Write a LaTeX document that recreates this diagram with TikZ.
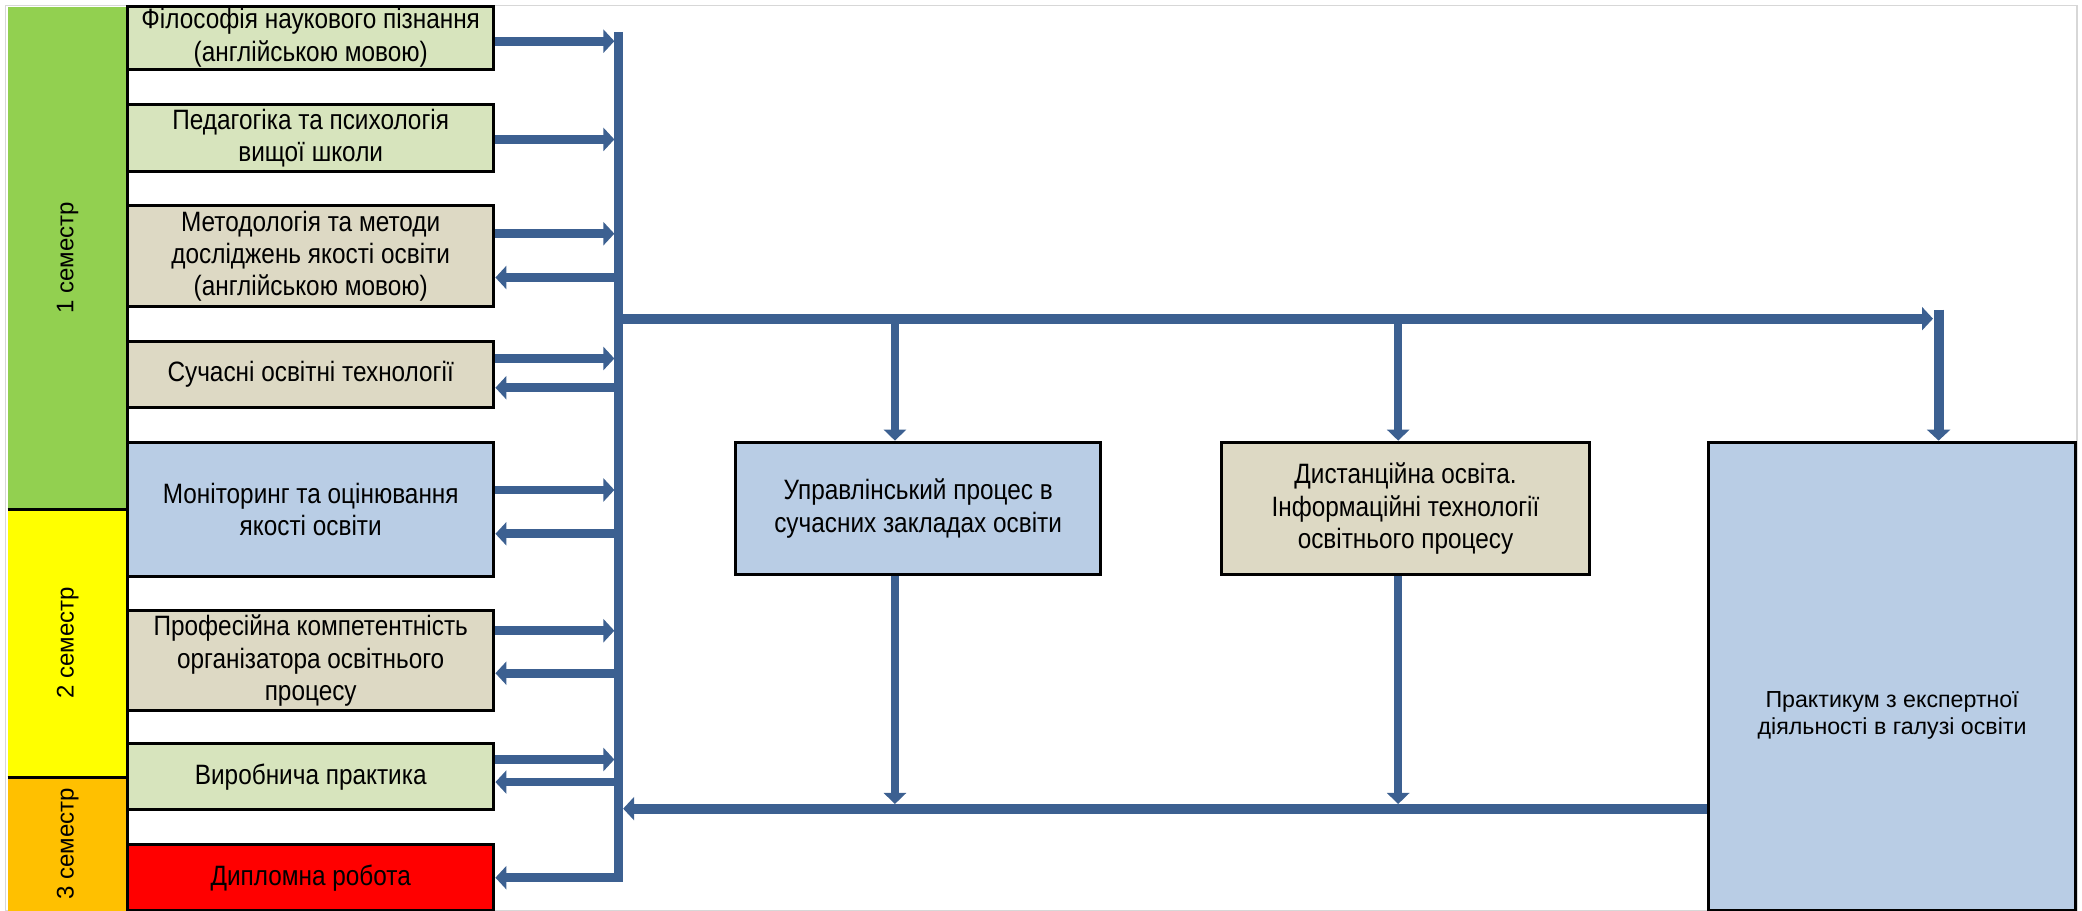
\documentclass[tikz,border=0pt]{standalone}
\usepackage{fontspec}
\setmainfont{Liberation Sans}
\newfontfamily\narrowfont[FakeStretch=0.87]{Liberation Sans}
\usetikzlibrary{arrows.meta}
\definecolor{semgreen}{HTML}{92D050}
\definecolor{semyellow}{HTML}{FFFF00}
\definecolor{semorange}{HTML}{FFC000}
\definecolor{boxgreen}{HTML}{D7E4BD}
\definecolor{boxtan}{HTML}{DDD9C4}
\definecolor{boxblue}{HTML}{B9CDE5}
\definecolor{boxred}{HTML}{FF0000}
\definecolor{arrowblue}{RGB}{60,96,145}
\definecolor{framegray}{RGB}{215,215,215}
\tikzset{
  sembar/.style={inner sep=0pt, fill=#1, minimum width=59.75pt},
  semlabel/.style={rotate=90, font=\fontsize{12}{14}\selectfont},
  lbox/.style={draw=black, line width=1.5pt, inner sep=0pt, fill=#1, align=center,
    font=\narrowfont\fontsize{14}{16.2}\selectfont},
  leftcol/.style={minimum width=183.2pt},
  conn/.style={draw=arrowblue, line width=4.4pt},
  busline/.style={draw=arrowblue, line width=4.4pt},
  thinconn/.style={draw=arrowblue, line width=4.2pt},
  tipto/.style={-{Triangle[length=5.5pt,width=11.5pt]}},
  tipfrom/.style={{Triangle[length=5.5pt,width=11.5pt]}-},
  smalltip/.style={-{Triangle[length=5.5pt,width=11pt]}},
}
\begin{document}
\begin{tikzpicture}[x=0.6639pt,y=-0.6639pt]
\useasboundingbox (0,0) rectangle (1568,686);
\draw[framegray, line width=0.8pt] (4,4) rectangle (1564,686);

% semester bars
\node[sembar=semgreen, minimum height=251pt, label={[semlabel]center:1 семестр}] (s1) at (51,194) {};
\node[sembar=semyellow, minimum height=134.1pt, label={[semlabel]center:2 семестр}] (s2) at (51,484) {};
\node[sembar=semorange, minimum height=67.1pt, label={[semlabel]center:3 семестр}] (s3) at (51,635.5) {};
\draw[black, line width=1.5pt] (s1.north east) -- (s3.south east);
\draw[black, line width=1.5pt] (s1.south west) -- (s1.south east);
\draw[black, line width=1.5pt] (s2.south west) -- (s2.south east);

% left boxes
\node[lbox=boxgreen, leftcol, minimum height=31.2pt] (b1) at (234,28.5) {Філософія наукового пізнання\\(англійською мовою)};
\node[lbox=boxgreen, leftcol, minimum height=33.2pt] (b2) at (234,104) {Педагогіка та психологія\\вищої школи};
\node[lbox=boxtan, leftcol, minimum height=50.5pt] (b3) at (234,193) {Методологія та методи\\досліджень якості освіти\\(англійською мовою)};
\node[lbox=boxtan, leftcol, minimum height=33.2pt] (b4) at (234,282) {Сучасні освітні технології};
\node[lbox=boxblue, leftcol, minimum height=67.1pt] (b5) at (234,383.5) {Моніторинг та оцінювання\\якості освіти};
\node[lbox=boxtan, leftcol, minimum height=49.8pt] (b6) at (234,497.5) {Професійна компетентність\\організатора освітнього\\процесу};
\node[lbox=boxgreen, leftcol, minimum height=33.2pt] (b7) at (234,585) {Виробнича практика};
\node[lbox=boxred, leftcol, minimum height=33.2pt] (b8) at (234,661) {Дипломна робота};

% middle and right boxes
\node[lbox=boxblue, minimum width=182.6pt, minimum height=66.4pt] (m1) at (691.5,383) {Управлінський процес в\\сучасних закладах освіти};
\node[lbox=boxtan, minimum width=183.9pt, minimum height=66.4pt] (m2) at (1058.5,383) {Дистанційна освіта.\\Інформаційні технології\\освітнього процесу};
\node[lbox=boxblue, minimum width=183.2pt, minimum height=234.4pt,
  label={[yshift=-19.6pt, align=center, font=\fontsize{11.6}{13.6}\selectfont]center:Практикум з експертної\\діяльності в галузі освіти}] (p) at (1425,509.5) {};

% bus
\coordinate (bt) at (466,24);
\coordinate (bb) at (466,661);
\coordinate (tr) at (1460,237);
\draw[busline] (bt) -- (bb);

% arrows into the bus
\draw[conn, tipto, shorten >=2.2pt] (b1.east |- 0,31) -- (bt |- 0,31);
\draw[conn, tipto, shorten >=2.2pt] (b2.east |- 0,105) -- (bt |- 0,105);
\draw[conn, tipto, shorten >=2.2pt] (b3.east |- 0,176) -- (bt |- 0,176);
\draw[conn, tipto, shorten >=2.2pt] (b4.east |- 0,270) -- (bt |- 0,270);
\draw[conn, tipto, shorten >=2.2pt] (b5.east |- 0,369) -- (bt |- 0,369);
\draw[conn, tipto, shorten >=2.2pt] (b6.east |- 0,475) -- (bt |- 0,475);
\draw[conn, tipto, shorten >=2.2pt] (b7.east |- 0,572) -- (bt |- 0,572);

% arrows out of the bus
\draw[conn, tipfrom] (b3.east |- 0,209) -- (bt |- 0,209);
\draw[conn, tipfrom] (b4.east |- 0,292) -- (bt |- 0,292);
\draw[conn, tipfrom] (b5.east |- 0,402) -- (bt |- 0,402);
\draw[conn, tipfrom] (b6.east |- 0,507) -- (bt |- 0,507);
\draw[conn, tipfrom] (b7.east |- 0,589) -- (bt |- 0,589);
\draw[conn, tipfrom] (b8.east |- bb) -- ([xshift=2.2pt]bb);

% top distribution line
\draw[conn, line width=5pt, tipto] (bt |- 0,240) -- ([xshift=-2.8pt]tr |- 0,240);
\draw[conn, line width=5pt, tipto, line cap=butt] ([yshift=2.5pt]tr) -- (tr |- p.north);
\draw[thinconn, smalltip] (m1.north -| 674,0) ++(0,-93) -- (m1.north -| 674,0);
\draw[thinconn, smalltip] (m2.north -| 1053,0) ++(0,-93) -- (m2.north -| 1053,0);

% bottom collection line
\draw[thinconn, smalltip] (m1.south -| 674,0) -- (674,605.5);
\draw[thinconn, smalltip] (m2.south -| 1053,0) -- (1053,605.5);
\draw[conn, line width=5pt, tipfrom] ([xshift=2.2pt]bt |- 0,609) -- (p.west |- 0,609);
\end{tikzpicture}
\end{document}
